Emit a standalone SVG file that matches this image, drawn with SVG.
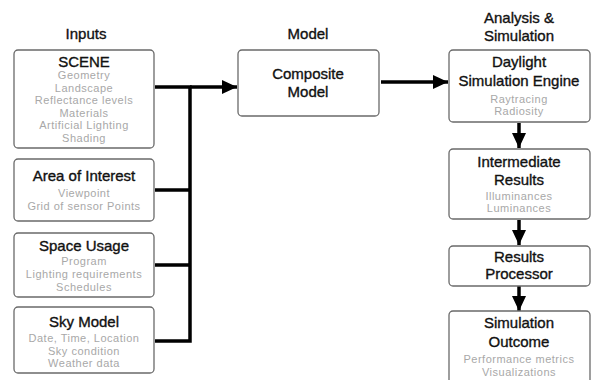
<svg xmlns="http://www.w3.org/2000/svg" width="591" height="380" viewBox="0 0 591 380">
<style>
.box{fill:#fff;stroke:#6a6a6a;stroke-width:1.3}
.t{font-family:"Liberation Sans",Arial,sans-serif;font-size:15px;fill:#111;stroke:#111;stroke-width:0.35;text-anchor:middle}
.h{font-family:"Liberation Sans",Arial,sans-serif;font-size:15px;fill:#111;stroke:#111;stroke-width:0.35;text-anchor:middle}
.s{font-family:"Liberation Sans",Arial,sans-serif;font-size:11px;letter-spacing:0.5px;fill:#a8a8a8;text-anchor:middle}
.ln{fill:none;stroke:#000;stroke-width:3.5}
</style>
<defs>
<marker id="ah" markerUnits="userSpaceOnUse" markerWidth="16" markerHeight="14" refX="15" refY="7" orient="auto">
<polygon points="0,0 15,7 0,14" fill="#000"/>
</marker>
</defs>
<g id="headers">
<text class="h" x="86" y="39">Inputs</text>
<text class="h" x="308" y="39">Model</text>
<text class="h" x="519" y="23">Analysis &amp;</text>
<text class="h" x="519" y="41">Simulation</text>
</g>
<g id="connectors">
<path class="ln" d="M155,87 H190 M155,190 H190 M155,265 H190 M155,341 H190 M190,85.3 V342.7"/>
<path class="ln" d="M190,87 H237" marker-end="url(#ah)"/>
<path class="ln" d="M381,82 H448" marker-end="url(#ah)"/>
<path class="ln" d="M519,123 V148" marker-end="url(#ah)"/>
<path class="ln" d="M519,220 V245" marker-end="url(#ah)"/>
<path class="ln" d="M519,286 V311" marker-end="url(#ah)"/>
</g>
<g id="scene">
<rect class="box" x="14" y="50" width="140" height="98" rx="4"/>
<text class="t" x="84" y="67">SCENE</text>
<text class="s" x="84" y="79">Geometry</text>
<text class="s" x="84" y="91.5">Landscape</text>
<text class="s" x="84" y="104">Reflectance levels</text>
<text class="s" x="84" y="116.5">Materials</text>
<text class="s" x="84" y="129">Artificial Lighting</text>
<text class="s" x="84" y="141.5">Shading</text>
</g>
<g id="area">
<rect class="box" x="14" y="159" width="140" height="62" rx="4"/>
<text class="t" x="84" y="181">Area of Interest</text>
<text class="s" x="84" y="197">Viewpoint</text>
<text class="s" x="84" y="210">Grid of sensor Points</text>
</g>
<g id="space">
<rect class="box" x="14" y="233" width="140" height="64" rx="4"/>
<text class="t" x="84" y="251">Space Usage</text>
<text class="s" x="84" y="265">Program</text>
<text class="s" x="84" y="278">Lighting requirements</text>
<text class="s" x="84" y="291">Schedules</text>
</g>
<g id="sky">
<rect class="box" x="14" y="307" width="140" height="66" rx="4"/>
<text class="t" x="84" y="327">Sky Model</text>
<text class="s" x="84" y="342">Date, Time, Location</text>
<text class="s" x="84" y="355">Sky condition</text>
<text class="s" x="84" y="367">Weather data</text>
</g>
<g id="composite">
<rect class="box" x="238" y="50" width="141" height="66" rx="4"/>
<text class="t" x="308" y="79">Composite</text>
<text class="t" x="308" y="97">Model</text>
</g>
<g id="engine">
<rect class="box" x="449" y="50" width="141" height="72" rx="4"/>
<text class="t" x="519" y="67">Daylight</text>
<text class="t" x="519" y="86">Simulation Engine</text>
<text class="s" x="519" y="103">Raytracing</text>
<text class="s" x="519" y="115">Radiosity</text>
</g>
<g id="intermediate">
<rect class="box" x="449" y="149" width="141" height="70" rx="4"/>
<text class="t" x="519" y="167">Intermediate</text>
<text class="t" x="519" y="185">Results</text>
<text class="s" x="519" y="200">Illuminances</text>
<text class="s" x="519" y="212">Luminances</text>
</g>
<g id="processor">
<rect class="box" x="449" y="246" width="141" height="40" rx="4"/>
<text class="t" x="519" y="262">Results</text>
<text class="t" x="519" y="279">Processor</text>
</g>
<g id="outcome">
<rect class="box" x="449" y="311" width="141" height="75" rx="4"/>
<text class="t" x="519" y="328">Simulation</text>
<text class="t" x="519" y="347">Outcome</text>
<text class="s" x="519" y="363">Performance metrics</text>
<text class="s" x="519" y="376">Visualizations</text>
</g>
</svg>
